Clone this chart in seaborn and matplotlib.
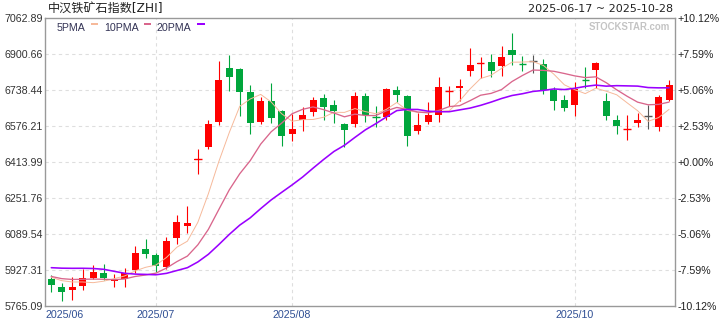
import numpy as np
import pandas as pd
import matplotlib
matplotlib.use("Agg")
import matplotlib.pyplot as plt
import seaborn as sns
from matplotlib.patches import Rectangle

# ---------------- data ----------------
title = "中汉铁矿石指数[ZHI]"
date_range = "2025-06-17 ~ 2025-10-28"

# closes before the first visible candle (only feed the moving averages)
prior_closes = [5875, 5865, 5890, 5940, 5965, 6070, 6090, 6080, 6030, 5980,
                5930, 5890, 5885, 5910, 5902, 5907, 5883, 5893, 5935]

opens = [5888.2, 5853.5, 5840.0, 5858.0, 5892.7, 5915.2, 5880.5, 5889.5, 5930.1, 6023.4,
         5995.0, 5940.9, 6074.3, 6128.3, 6425.0, 6481.6, 6597.0, 6838.9, 6834.4, 6730.8,
         6597.0, 6690.2, 6645.2, 6542.9, 6603.3, 6642.0, 6703.8, 6672.2, 6586.6, 6586.6,
         6712.8, 6619.5, 6618.2, 6739.8, 6712.8, 6556.4, 6597.0, 6628.5, 6732.1, 6748.8,
         6826.8, 6859.2, 6866.0, 6848.0, 6920.0, 6858.3, 6870.5, 6857.0, 6739.8, 6694.7,
         6672.2, 6786.2, 6831.3, 6690.2, 6604.6, 6558.2, 6592.5, 6622.6, 6574.5, 6694.7]
closes = [5861.1, 5831.0, 5853.5, 5892.7, 5919.7, 5894.1, 5888.2, 5913.9, 6005.3, 6002.2,
          5945.4, 6059.4, 6145.0, 6140.5, 6428.9, 6586.6, 6784.9, 6799.8, 6732.1, 6592.5,
          6690.2, 6615.0, 6533.9, 6564.1, 6627.2, 6694.7, 6664.6, 6646.6, 6560.9, 6712.8,
          6627.2, 6616.8, 6744.3, 6717.3, 6533.9, 6582.1, 6627.2, 6753.3, 6734.0, 6757.8,
          6852.5, 6860.1, 6826.8, 6888.5, 6897.5, 6855.6, 6870.5, 6739.8, 6691.6, 6658.7,
          6744.3, 6783.5, 6861.5, 6624.0, 6577.6, 6562.7, 6606.0, 6622.6, 6708.3, 6762.4]
highs = [5904.9, 5871.5, 5897.2, 5933.2, 5951.3, 5955.8, 5910.7, 5936.4, 6036.9, 6068.4,
         6006.7, 6076.1, 6176.5, 6217.1, 6474.0, 6604.6, 6870.5, 6897.5, 6838.9, 6762.4,
         6708.3, 6772.7, 6651.1, 6633.0, 6663.2, 6708.3, 6721.8, 6694.7, 6591.1, 6730.8,
         6726.3, 6667.7, 6748.8, 6757.8, 6717.3, 6636.2, 6685.7, 6798.4, 6757.8, 6789.4,
         6929.1, 6888.5, 6902.1, 6938.1, 6996.7, 6893.0, 6896.2, 6879.5, 6753.3, 6717.3,
         6775.9, 6843.4, 6866.0, 6726.3, 6627.2, 6627.2, 6636.2, 6672.2, 6717.3, 6784.9]
lows = [5831.0, 5790.4, 5794.9, 5840.0, 5886.8, 5885.0, 5853.5, 5853.5, 5916.6, 5984.2,
        5921.1, 5931.9, 6045.9, 6094.1, 6360.0, 6475.3, 6582.1, 6736.7, 6622.6, 6542.9,
        6588.0, 6592.5, 6488.8, 6511.4, 6556.4, 6624.0, 6606.0, 6592.5, 6484.3, 6574.5,
        6597.0, 6574.5, 6606.0, 6685.7, 6488.8, 6542.9, 6586.6, 6597.0, 6667.7, 6690.2,
        6802.9, 6793.9, 6798.4, 6802.9, 6852.5, 6825.4, 6817.8, 6721.8, 6649.7, 6645.2,
        6622.6, 6748.8, 6747.5, 6604.6, 6541.5, 6515.9, 6573.1, 6565.4, 6556.4, 6690.2]

month_labels = ["2025/06", "2025/07", "2025/08", "2025/10"]
month_index = [0, 10, 23, 50]

yticks = [5765.09, 5927.31, 6089.54, 6251.76, 6413.99, 6576.21, 6738.44, 6900.66, 7062.89]
base_price = 6413.99

ma_names = ["5PMA", "10PMA", "20PMA"]
ma_windows = [5, 10, 20]
ma_colors = ["#f6b99a", "#d9668c", "#9a00ff"]
ma_widths = [0.7, 0.95, 1.15]

# ---------------- figure ----------------
sns.set_style("white")
plt.rcParams["font.family"] = ["Liberation Sans", "Noto Sans CJK SC", "DejaVu Sans"]

W, H = 720, 320
fig = plt.figure(figsize=(7.2, 3.2), dpi=100)
L, R, T, B = 45, 674.5, 18.3, 306.3
ax = fig.add_axes([L / W, 1 - B / H, (R - L) / W, (B - T) / H])

O = np.array(opens); C = np.array(closes)
Hh = np.array(highs); Ll = np.array(lows)
x = np.arange(len(O))
RED, GREEN, GREY = "#ff0000", "#00a63c", "#555555"
cols = np.where(C > O, RED, np.where(C < O, GREEN, GREY))

# wicks
ax.vlines(x, Ll, Hh, colors=cols, linewidth=0.8, zorder=2)
# bodies
ax.bar(x, np.abs(C - O), bottom=np.minimum(O, C), width=0.67, color=cols,
       linewidth=0, zorder=3)
# thin (doji) bodies
thin = np.abs(C - O) < 5
ax.hlines(C[thin], x[thin] - 0.36, x[thin] + 0.36, colors=cols[thin], linewidth=1.0, zorder=3)

# moving averages
series = pd.Series(prior_closes + closes, dtype=float)
n0 = len(prior_closes)
for name, w, c, lw in zip(ma_names, ma_windows, ma_colors, ma_widths):
    ma = series.rolling(w).mean().values[n0:]
    sns.lineplot(x=x, y=ma, color=c, linewidth=lw, ax=ax, zorder=4)

x0, x1 = -0.6, 59.52
ax.set_xlim(x0, x1)
ax.set_ylim(yticks[0], yticks[-1])

# grid
ax.set_yticks(yticks)
ax.set_yticklabels([f"{v:.2f}" for v in yticks])
for v in yticks[1:-1]:
    ax.axhline(v, color="#dedede", linewidth=0.8, linestyle=(0, (3, 3)), zorder=0)
tick_pos = [x0 if i == 0 else i for i in month_index]
ax.set_xticks(tick_pos)
ax.set_xticklabels(month_labels)
for i in month_index[1:]:
    ax.axvline(i, color="#dedede", linewidth=0.8, linestyle=(0, (3, 3)), zorder=0)
ax.get_xticklabels()[0].set_horizontalalignment("left")

ax.tick_params(axis="both", length=0, labelsize=7.7)
ax.tick_params(axis="y", pad=1.5, labelcolor="#333333")
ax.tick_params(axis="x", pad=2.5, labelcolor="#2f4f94")
for s in ax.spines.values():
    s.set_color("#999999")
    s.set_linewidth(1.0)
ax.grid(False)
ax.set_xlabel(""); ax.set_ylabel("")

# right percentage axis
ax2 = ax.twinx()
ax2.set_ylim(yticks[0], yticks[-1])
ax2.set_yticks(yticks)
pct = [round((v / base_price - 1) * 100, 2) + 0.0 for v in yticks]
ax2.set_yticklabels([f"{p:+.2f}%" for p in pct])
ax2.tick_params(axis="y", length=0, pad=2, labelsize=7.7, labelcolor="#222222")
for s in ax2.spines.values():
    s.set_visible(False)
ax2.grid(False)

# title and date range
fig.text(48 / W, 1 - 8.5 / H, title, fontsize=8.7, va="center", ha="left",
         family=["DejaVu Sans", "Noto Sans CJK SC"], color="#222222")
fig.text(673 / W, 1 - 8.5 / H, date_range, fontsize=8, va="center", ha="right",
         family=["DejaVu Sans"], color="#222222")

# legend
leg_text_x = [56.5, 104, 156.5]
leg_mark_x = [90.7, 144, 197.3]
for name, c, tx, mx in zip(ma_names, ma_colors, leg_text_x, leg_mark_x):
    fig.text(tx / W, 1 - 28 / H, name, fontsize=7.7, va="center", ha="left",
             color="#333355")
    fig.patches.append(Rectangle((mx / W, 1 - 25.3 / H), 7.4 / W, 2.6 / H,
                                 transform=fig.transFigure, color=c, lw=0))

# watermark
fig.text(670 / W, 1 - 27 / H, "STOCKSTAR.com", fontsize=6.9, fontweight="bold",
         va="center", ha="right", color="#c4c4c4")

fig.savefig("out.png", dpi=100)
